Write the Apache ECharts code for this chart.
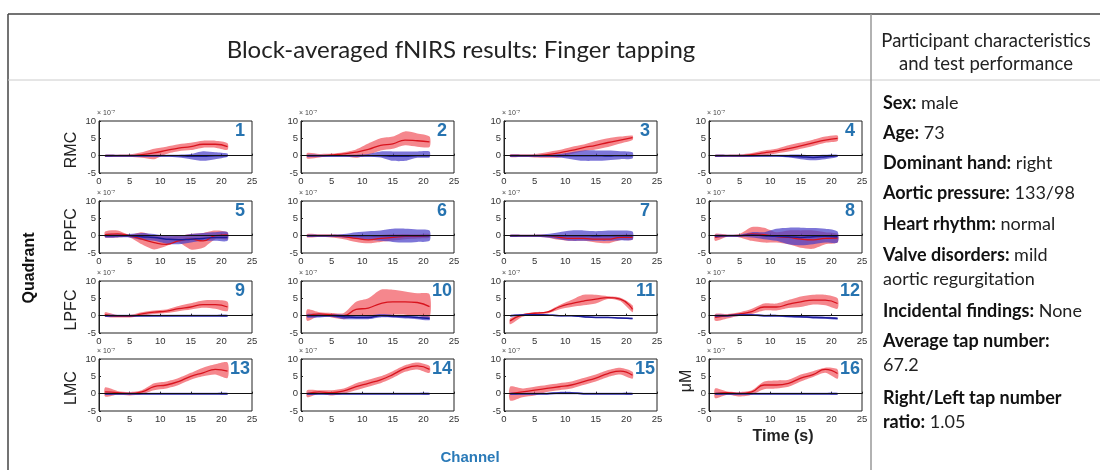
<!DOCTYPE html>
<html>
<head>
<meta charset="utf-8">
<script src="https://cdn.jsdelivr.net/npm/echarts@6/dist/echarts.min.js"></script>
<style>
  html, body { margin: 0; padding: 0; background: #fff; }
  #chart { width: 1100px; height: 470px; }
</style>
</head>
<body>
<div id="chart"></div>
<script>
// time points (s) and y values in units of 1e-7 M
const timePoints = [1, 3, 5, 7, 9, 11, 13, 15, 17, 19, 21];
const rowLabels = ["RMC", "RPFC", "LPFC", "LMC"];
const channelNames = ["1", "2", "3", "4", "5", "6", "7", "8", "9", "10", "11", "12", "13", "14", "15", "16"];
const xTicks = [0, 25, 5];
const yTicks = [-5, 10, 5];

// HbO (red) mean and band
const redMean = [
  [0, 0, 0, 0.3, 0.8, 1.5, 2.2, 2.6, 3.3, 3.3, 2.6],
  [0, 0, 0.2, 0.5, 1, 1.8, 3, 3.4, 4.5, 4.3, 4],
  [0, 0, 0, 0.3, 0.8, 1.5, 2.3, 3, 3.8, 4.5, 5.2],
  [0, 0, 0, 0.3, 0.8, 1.3, 2, 2.8, 3.7, 4.5, 5],
  [0.3, 0.5, 0, -1, -2, -2.5, -1.5, -1, -1.5, 0, 0.2],
  [0, 0, 0, -0.3, -0.8, -1.2, -0.8, -0.5, -0.2, -0.2, 0],
  [0, 0, 0, 0, -0.5, -0.8, -0.8, -1, -1, -0.5, -0.5],
  [-0.5, 0, 0, 0.5, 0.3, -0.3, -0.5, -1, -1.2, -0.8, -0.7],
  [0.3, -0.2, -0.2, 0.5, 1, 1.3, 2, 2.5, 3.2, 3.2, 2.5],
  [0, 0.5, 0.2, 0, 1.8, 2.2, 3.5, 4, 4, 3.8, 2.6],
  [-1.5, 0.2, 0.7, 1, 2.5, 3.5, 4.2, 4.8, 5.2, 4.8, 1.8],
  [-0.5, 0, 0.5, 1.2, 2.5, 2.5, 3.3, 4, 4.5, 4.5, 3.5],
  [0.5, 0.3, 0, 0.5, 2, 2.5, 3.5, 5, 6, 7, 6.5],
  [0, 0.5, 0.3, 0.8, 2, 3, 4, 5.5, 7.3, 8, 7],
  [0, 0.5, 1, 1.5, 2, 2.5, 3.5, 4.5, 5.8, 6.5, 5.3],
  [0, 0.3, 0, 0.5, 2.5, 2.5, 3, 4.5, 5.5, 7, 5.8]
];
const redHi = [
  [0.3, 0.3, 0.4, 1, 2, 2.6, 3.3, 3.7, 4.3, 4.3, 3.6],
  [0.8, 0.5, 0.6, 1, 1.8, 3.5, 5, 5.5, 7, 6.4, 5.5],
  [0.4, 0.4, 0.5, 1, 1.6, 2.5, 3.2, 4.2, 5, 5.5, 5.8],
  [0.3, 0.3, 0.4, 0.8, 1.5, 2, 3, 3.8, 4.6, 5.5, 5.8],
  [1.2, 1.5, 0.3, 1, 0, -0.2, 0, 0.5, 0.8, 1.5, 1],
  [0.5, 0.4, 0.4, 0.3, 0, -0.3, 0.2, 0.4, 0.5, 0.4, 0.5],
  [0.3, 0.3, 0.3, 0.3, 0, 0, 0, 0, 0.2, 0.3, 0.2],
  [0.5, 0.3, 0.5, 2.5, 2.3, 1, 1.5, 1.5, 1.5, 1, 0.5],
  [1, 0.2, 0.2, 1, 1.5, 1.8, 2.8, 3.6, 4.4, 4.5, 4],
  [1.8, 1, 0.8, 0.8, 4, 5, 7.5, 7.5, 7, 6.5, 6.2],
  [-0.8, 0.5, 1, 1.2, 3, 4.5, 6, 6, 5.6, 5.2, 3],
  [0.5, 0.5, 1, 2, 3.5, 3.5, 4.5, 5.5, 6, 6, 5],
  [1.8, 0.8, 0.5, 1, 3, 3.5, 4.5, 6, 7.5, 8.5, 9],
  [1, 1, 1, 1.5, 3, 4, 5, 6.5, 8.2, 9, 8],
  [2, 1.5, 2, 2.5, 3, 3.5, 4.5, 5.5, 6.8, 7.5, 6.3],
  [1.5, 0.6, 0.5, 1, 3.5, 3.8, 4, 5.5, 6.5, 7.5, 7]
];
const redLo = [
  [-0.3, -0.3, -0.3, -0.6, -1, 0.5, 1.3, 1.6, 2.3, 2.3, 1.7],
  [-0.8, -0.5, -0.2, -0.2, -0.6, 0.2, 1.5, 2, 3, 2.6, 2.5],
  [-0.4, -0.4, -0.5, -0.6, -0.5, 0.5, 1.3, 1.8, 2.5, 3.5, 4.5],
  [-0.3, -0.3, -0.4, -0.3, 0, 0.6, 1.2, 2, 2.8, 3.7, 4.2],
  [-0.5, -0.5, -0.5, -2.5, -4, -3, -2, -4, -3.5, -1, -1],
  [-0.5, -0.4, -0.5, -1, -1.8, -2.2, -1.8, -1.4, -1, -0.8, -0.6],
  [-0.3, -0.3, -0.3, -0.5, -1.2, -1.5, -1.5, -2, -2.2, -1.3, -1.2],
  [-1.5, -0.3, -0.5, -1.5, -2, -2, -2.5, -3.5, -3.8, -2.5, -2],
  [-0.3, -0.5, -0.5, 0, 0.5, 0.8, 1.3, 1.8, 2.3, 2, 1.3],
  [-1.5, 0, -0.5, -1, -0.2, -0.3, 0, 0.3, 0.3, 0, -0.5],
  [-2.5, -0.3, 0.3, 0.6, 1.8, 2.5, 3, 3.5, 4.8, 4.2, 1],
  [-1.5, -0.8, 0, 0.5, 1.5, 1.5, 2.2, 2.5, 3.2, 3, 2],
  [-0.8, -0.3, -0.5, -0.2, 1, 1.5, 2.5, 4, 5, 5.5, 4.5],
  [-1, 0, -0.5, 0, 1, 2, 3, 4.5, 6.3, 7, 6],
  [-2, -1, -0.5, 0.5, 1, 1.5, 2.5, 3.5, 4.8, 5.5, 4.3],
  [-1.3, -0.3, -0.8, -0.3, 1.3, 1.5, 2, 3.5, 4.8, 6, 4.3]
];

// HbR (blue) mean and band
const blueMean = [
  [0, 0, 0, 0, 0, 0, 0, -0.2, -0.2, 0, 0],
  [0, 0, 0, 0, 0, 0, 0, -0.2, -0.2, 0, 0],
  [0, 0, 0, 0, 0, 0, 0, 0, -0.1, 0, 0],
  [0, 0, 0, 0, 0, 0, -0.2, -0.3, -0.5, -0.3, 0],
  [0, 0, 0, -0.3, -0.5, -1, -1.2, -1, -0.8, -0.5, -0.5],
  [0, 0, 0, 0, 0, 0, 0, 0, 0, 0, 0],
  [0, 0, 0, 0, 0, 0, 0, -0.1, 0, 0, 0],
  [-0.1, 0, 0, 0.2, 0, -0.2, -0.3, -0.5, -0.3, -0.2, -0.3],
  [0, 0, 0, 0, 0, 0, 0, 0, 0, 0, 0],
  [0, 0, 0, -0.3, -0.5, -0.5, 0, -0.2, -0.3, -0.5, -0.8],
  [0, 0.2, 0.3, 0.2, 0, 0, -0.3, -0.5, -0.5, -0.7, -0.8],
  [0, 0, 0.2, 0.2, 0, 0, -0.2, -0.3, -0.5, -0.6, -0.8],
  [0, 0, 0, 0, 0, 0, 0, 0, 0, 0, 0],
  [0, 0, 0, 0, 0, 0, 0, 0, 0, 0, 0],
  [0, 0, 0, 0, 0.2, 0.2, 0, 0, 0, 0, 0],
  [0, 0, 0, 0, 0, 0, 0, 0, 0, 0, 0]
];
const blueHi = [
  [0.3, 0.3, 0.3, 0.3, 0.3, 0.3, 0.3, 0.5, 1.3, 1, 0.6],
  [0.3, 0.3, 0.3, 0.3, 0.3, 0.5, 1.2, 1.2, 1.2, 1.2, 1.2],
  [0.3, 0.3, 0.3, 0.3, 0.5, 1, 1.5, 1.5, 1.5, 1.3, 1],
  [0.3, 0.3, 0.3, 0.3, 0.3, 0.3, 0.3, 0.3, 0.2, 0.3, 0.3],
  [0.5, 0.5, 0.5, 0.8, 0.5, 0, 0, 0.5, 0.8, 1, 1],
  [0.3, 0.3, 0.3, 0.5, 1, 1.3, 1.5, 2, 2, 1.8, 1.5],
  [0.3, 0.3, 0.3, 0.5, 1, 1.5, 1.5, 1.3, 1.5, 1.5, 1.2],
  [0.3, 0.3, 0.3, 1, 1, 2, 2.3, 2.3, 2.2, 2, 1.2],
  [0.3, 0.3, 0.3, 0.3, 0.3, 0.3, 0.3, 0.3, 0.3, 0.3, 0.3],
  [0.5, 0.5, 0.5, 0.3, 0, 0, 0.5, 0.3, 0, -0.2, -0.3],
  [0.2, 0.4, 0.5, 0.4, 0.2, 0.2, -0.1, -0.3, -0.3, -0.5, -0.6],
  [0.3, 0.3, 0.5, 0.5, 0.3, 0.3, 0.1, 0, -0.2, -0.3, -0.5],
  [0.3, 0.3, 0.3, 0.3, 0.3, 0.3, 0.3, 0.3, 0.3, 0.3, 0.3],
  [0.3, 0.3, 0.3, 0.3, 0.3, 0.3, 0.3, 0.3, 0.3, 0.3, 0.3],
  [0.3, 0.3, 0.3, 0.3, 0.5, 0.5, 0.3, 0.3, 0.3, 0.3, 0.3],
  [0.3, 0.3, 0.3, 0.3, 0.3, 0.3, 0.3, 0.3, 0.3, 0.3, 0.3]
];
const blueLo = [
  [-0.3, -0.3, -0.3, -0.3, -0.3, -0.3, -0.5, -1, -1.5, -1, -0.3],
  [-0.3, -0.3, -0.3, -0.3, -0.3, -0.3, -0.5, -1.5, -1.5, -0.6, -0.5],
  [-0.3, -0.3, -0.3, -0.3, -0.5, -1, -1.5, -1.5, -1.3, -1, -0.8],
  [-0.3, -0.3, -0.3, -0.3, -0.3, -0.3, -0.5, -1, -1.3, -1, -0.4],
  [-0.5, -0.5, -0.5, -1.2, -1.5, -2.3, -2.5, -2, -1.5, -1.5, -1.5],
  [-0.3, -0.3, -0.3, -0.5, -0.8, -1.2, -1.5, -1.8, -2, -1.8, -1.5],
  [-0.3, -0.3, -0.3, -0.5, -1, -1.5, -1.5, -1.5, -1.5, -1.3, -1.2],
  [-0.5, -0.3, -0.3, -0.5, -1, -1.5, -2.5, -2.8, -2.5, -2, -2],
  [-0.3, -0.3, -0.3, -0.3, -0.3, -0.3, -0.3, -0.3, -0.3, -0.3, -0.3],
  [-0.5, -0.5, -0.3, -1, -1, -1, -0.5, -0.6, -0.8, -1, -1.3],
  [-0.2, 0, 0.1, 0, -0.2, -0.2, -0.5, -0.7, -0.7, -0.9, -1],
  [-0.3, -0.3, -0.1, -0.1, -0.3, -0.3, -0.5, -0.6, -0.8, -0.9, -1.1],
  [-0.3, -0.3, -0.3, -0.3, -0.3, -0.3, -0.3, -0.3, -0.3, -0.3, -0.3],
  [-0.3, -0.3, -0.3, -0.3, -0.3, -0.3, -0.3, -0.3, -0.3, -0.3, -0.3],
  [-0.3, -0.3, -0.3, -0.3, -0.2, -0.2, -0.3, -0.3, -0.3, -0.3, -0.3],
  [-0.3, -0.3, -0.3, -0.3, -0.3, -0.3, -0.3, -0.3, -0.3, -0.3, -0.3]
];

const infoLines = [
  ["Sex:", " male"],
  ["Age:", " 73"],
  ["Dominant hand:", " right"],
  ["Aortic pressure:", " 133/98"],
  ["Heart rhythm:", " normal"],
  ["Valve disorders:", " mild\naortic regurgitation"],
  ["Incidental findings:", " None"],
  ["Average tap number:", "\n67.2"],
  ["Right/Left tap number\nratio:", " 1.05"]
];
const infoTops = [94, 124, 154, 184, 215, 246, 302, 332, 389];

// layout of the 4x4 panels
const colLeft = [99, 301, 504, 709];
const rowTop = [121, 201, 281, 359];
const plotW = 153, plotH = 52;

const RED_BAND = "rgba(240, 70, 80, 0.65)";
const BLUE_BAND = "rgba(70, 60, 200, 0.7)";

const bandSeries = (i, lo, hi, color) => ({
  type: "custom",
  xAxisIndex: i,
  yAxisIndex: i,
  silent: true,
  data: timePoints.map((t, k) => [t, lo[k], hi[k]]),
  encode: { x: 0, y: [1, 2] },
  renderItem: (params, api) => {
    if (params.dataIndex !== 0) return null;
    const top = timePoints.map((t, k) => api.coord([t, hi[k]]));
    const bot = timePoints.map((t, k) => api.coord([t, lo[k]])).reverse();
    return {
      type: "polygon",
      shape: { points: top.concat(bot), smooth: 0.25 },
      style: { fill: color }
    };
  }
});

const grids = [], xAxes = [], yAxes = [], series = [], graphics = [];
const tickFont = { fontSize: 9.5, color: "#333", margin: 3, fontFamily: "Liberation Sans" };

channelNames.forEach((name, i) => {
  const r = Math.floor(i / 4), c = i % 4;
  grids.push({
    left: colLeft[c], top: rowTop[r], width: plotW, height: plotH,
    show: true, borderColor: "#222", borderWidth: 1, backgroundColor: "#fff"
  });
  xAxes.push({
    gridIndex: i, type: "value", min: xTicks[0], max: xTicks[1], interval: xTicks[2],
    axisLine: { lineStyle: { color: "#222" } },
    axisTick: { inside: true, length: 2, lineStyle: { color: "#222" } },
    axisLabel: tickFont,
    splitLine: { show: false }
  });
  yAxes.push({
    gridIndex: i, type: "value", min: yTicks[0], max: yTicks[1], interval: yTicks[2],
    name: "× 10⁻⁷", nameLocation: "end", nameGap: 1,
    nameTextStyle: { fontSize: 7, color: "#444", align: "left", padding: [0, 0, 0, -2] },
    axisLine: { lineStyle: { color: "#222" } },
    axisTick: { inside: true, length: 2, lineStyle: { color: "#222" } },
    axisLabel: tickFont,
    splitLine: { show: false }
  });
  series.push(bandSeries(i, redLo[i], redHi[i], RED_BAND));
  series.push({
    type: "line", xAxisIndex: i, yAxisIndex: i, smooth: true, showSymbol: false, silent: true,
    data: timePoints.map((t, k) => [t, redMean[i][k]]),
    lineStyle: { color: "#d8141e", width: 1.3 }
  });
  series.push(bandSeries(i, blueLo[i], blueHi[i], BLUE_BAND));
  series.push({
    type: "line", xAxisIndex: i, yAxisIndex: i, smooth: true, showSymbol: false, silent: true,
    data: timePoints.map((t, k) => [t, blueMean[i][k]]),
    lineStyle: { color: "#1c1c9a", width: 1.5 },
    markLine: {
      silent: true, symbol: "none", label: { show: false },
      lineStyle: { color: "#111", width: 1, type: "solid" },
      data: [{ yAxis: 0 }]
    }
  });
  graphics.push({
    type: "text", x: colLeft[c] + plotW - (name.length > 1 ? 2 : 7), y: rowTop[r] + 10,
    style: { text: name, fontSize: 18, fontWeight: "bold", fill: "#2673b0", fontFamily: "Liberation Sans", align: "right", verticalAlign: "middle" }
  });
});

// frame lines
graphics.push(
  { type: "line", shape: { x1: 8, y1: 14, x2: 1100, y2: 14 }, style: { stroke: "#444", lineWidth: 1.5 } },
  { type: "line", shape: { x1: 8, y1: 14, x2: 8, y2: 470 }, style: { stroke: "#444", lineWidth: 1.5 } },
  { type: "line", shape: { x1: 8, y1: 80, x2: 1100, y2: 80 }, style: { stroke: "#ccc", lineWidth: 1 } },
  { type: "line", shape: { x1: 871, y1: 14, x2: 871, y2: 470 }, style: { stroke: "#999", lineWidth: 1.5 } }
);

// titles and axis labels
graphics.push(
  { type: "text", x: 461, y: 50, style: { text: "Block-averaged fNIRS results: Finger tapping", fontSize: 24, fontFamily: "Lato", fill: "#222", align: "center", verticalAlign: "middle" } },
  { type: "text", x: 986, y: 53, style: { text: "Participant characteristics\nand test performance", fontSize: 18.5, lineHeight: 23, fontFamily: "Lato", fill: "#222", align: "center", verticalAlign: "middle" } },
  { type: "text", x: 30, y: 268, rotation: Math.PI / 2, style: { text: "Quadrant", fontSize: 16, fontWeight: "bold", fontFamily: "Liberation Sans", fill: "#111", align: "center", verticalAlign: "middle" } },
  { type: "text", x: 470, y: 458, style: { text: "Channel", fontSize: 15, fontWeight: "bold", fontFamily: "Liberation Sans", fill: "#2a7ab8", align: "center", verticalAlign: "middle" } },
  { type: "text", x: 783, y: 437, style: { text: "Time (s)", fontSize: 16, fontWeight: 600, fontFamily: "Liberation Sans", fill: "#222", align: "center", verticalAlign: "middle" } },
  { type: "text", x: 687, y: 381, rotation: Math.PI / 2, style: { text: "μM", fontSize: 16, fontFamily: "Liberation Sans", fill: "#222", align: "center", verticalAlign: "middle" } }
);
rowLabels.forEach((lab, r) => {
  graphics.push({
    type: "text", x: 72, y: rowTop[r] + 29, rotation: Math.PI / 2,
    style: { text: lab, fontSize: 16, fontFamily: "Liberation Sans", fill: "#222", align: "center", verticalAlign: "middle" }
  });
});
infoLines.forEach((pair, k) => {
  graphics.push({
    type: "text", left: 883, top: infoTops[k],
    style: {
      text: "{b|" + pair[0].split("\n").join("}\n{b|") + "}{n|" + pair[1].split("\n").join("}\n{n|") + "}",
      rich: {
        b: { fontSize: 18, fontWeight: "bold", fontFamily: "Lato", fill: "#111", lineHeight: 24 },
        n: { fontSize: 18, fontFamily: "Lato", fill: "#222", lineHeight: 24 }
      }
    }
  });
});

const chart = echarts.init(document.getElementById("chart"));
chart.setOption({
  animation: false,
  backgroundColor: "#fff",
  grid: grids,
  xAxis: xAxes,
  yAxis: yAxes,
  series: series,
  graphic: graphics
});
</script>
</body>
</html>
